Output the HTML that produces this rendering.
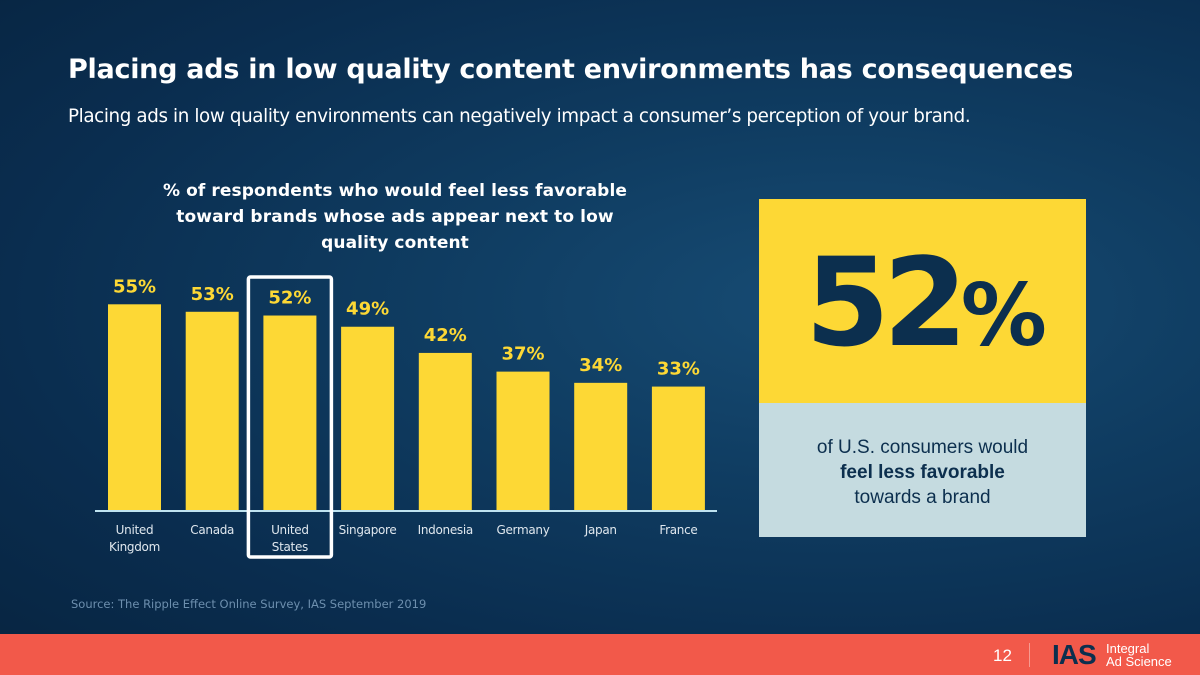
<!DOCTYPE html>
<html><head><meta charset="utf-8"><style>
body{margin:0;width:1200px;height:675px;overflow:hidden;font-family:"Liberation Sans","DejaVu Sans",sans-serif}
#bg{position:absolute;left:0;top:0;width:1200px;height:675px;background:radial-gradient(ellipse at 70% 45%,#174c74 0%,#0f3c61 35%,#0a2d4f 70%,#072440 100%)}
.t{position:absolute;color:#fff}
</style></head><body>
<div id="bg"></div>
<div class="t" style="left:68px;top:54px;font-size:27px;font-weight:bold;font-family:'DejaVu Sans',sans-serif;letter-spacing:-0.27px">Placing ads in low quality content environments has consequences</div>
<div class="t" style="left:68px;top:106px;font-size:18.3px;font-family:'DejaVu Sans',sans-serif;letter-spacing:-0.38px">Placing ads in low quality environments can negatively impact a consumer’s perception of your brand.</div>
<div class="t" style="left:150px;top:178px;width:490px;text-align:center;font-size:17px;font-weight:bold;line-height:26px;font-family:'DejaVu Sans',sans-serif;letter-spacing:0.1px">% of respondents who would feel less favorable toward brands whose ads appear next to low quality content</div>
<svg id="chart" width="1200" height="675" style="position:absolute;left:0;top:0"></svg>
<div style="position:absolute;left:759px;top:199px;width:327px;height:204px;background:#fdd835"></div>
<div style="position:absolute;left:759px;top:238px;width:327px;text-align:center;color:#0c2f4e;font-weight:bold;font-size:122px;line-height:130px;letter-spacing:-7px;font-family:'DejaVu Sans',sans-serif">52<span style="font-size:86px">%</span></div>
<div style="position:absolute;left:759px;top:403px;width:327px;height:134px;background:#c5dbe0;color:#0c2f4e;text-align:center;font-size:19px;line-height:25px;box-sizing:border-box;padding-top:32px">of U.S. consumers would<br><b>feel less favorable</b><br>towards a brand</div>
<div style="position:absolute;left:71px;top:597px;font-size:11.5px;color:#6d8fae;font-family:'DejaVu Sans',sans-serif">Source: The Ripple Effect Online Survey, IAS September 2019</div>
<div style="position:absolute;left:0;top:634px;width:1200px;height:41px;background:#f2594a"></div>
<div style="position:absolute;left:993px;top:646px;color:#fff;font-size:17px">12</div>
<div style="position:absolute;left:1029px;top:643px;width:1px;height:24px;background:#f79a90"></div>
<div style="position:absolute;left:1052px;top:639px;color:#0c2f4e;font-weight:bold;font-size:28px;letter-spacing:-1px">IAS</div>
<div style="position:absolute;left:1106px;top:642px;color:#fff;font-size:13px;line-height:13px">Integral<br>Ad Science</div>
<script>
const categories=["United\nKingdom","Canada","United\nStates","Singapore","Indonesia","Germany","Japan","France"];
const values=[55,53,52,49,42,37,34,33];
const valueLabels=["55%","53%","52%","49%","42%","37%","34%","33%"];
const ns="http://www.w3.org/2000/svg",svg=document.getElementById('chart');
const baseY=510,pxPer=3.74,x0=108,pitch=77.7,bw=53;
const xs=i=>x0+i*pitch, ys=v=>baseY-v*pxPer;
function mk(t,a){const e=document.createElementNS(ns,t);for(const k in a)e.setAttribute(k,a[k]);svg.appendChild(e);return e;}
values.forEach((v,i)=>{
 const r=mk('rect',{x:xs(i),y:ys(v),width:bw,height:v*pxPer,fill:'#fdd835'});
 
 
 const t=mk('text',{x:xs(i)+bw/2,y:ys(v)-12,'text-anchor':'middle',fill:'#fdd835','font-size':18,'font-weight':'bold','font-family':'DejaVu Sans, sans-serif'});
 t.textContent=valueLabels[i];
 
 
 categories[i].split('\n').forEach((ln,j)=>{
  const c=mk('text',{x:xs(i)+bw/2,y:534+j*17,'text-anchor':'middle',fill:'#dfe7ee','font-size':12,'font-family':'DejaVu Sans, sans-serif','letter-spacing':'-0.3'});
  c.textContent=ln;
  
  
 });
});
const ax=mk('line',{x1:95,x2:717,y1:baseY+1,y2:baseY+1,stroke:'#bfe3f0','stroke-width':2});


const hb=mk('rect',{x:xs(2)-15,y:277,width:83,height:280,fill:'none',stroke:'#fff','stroke-width':3.5,rx:2});


</script>
</body></html>
